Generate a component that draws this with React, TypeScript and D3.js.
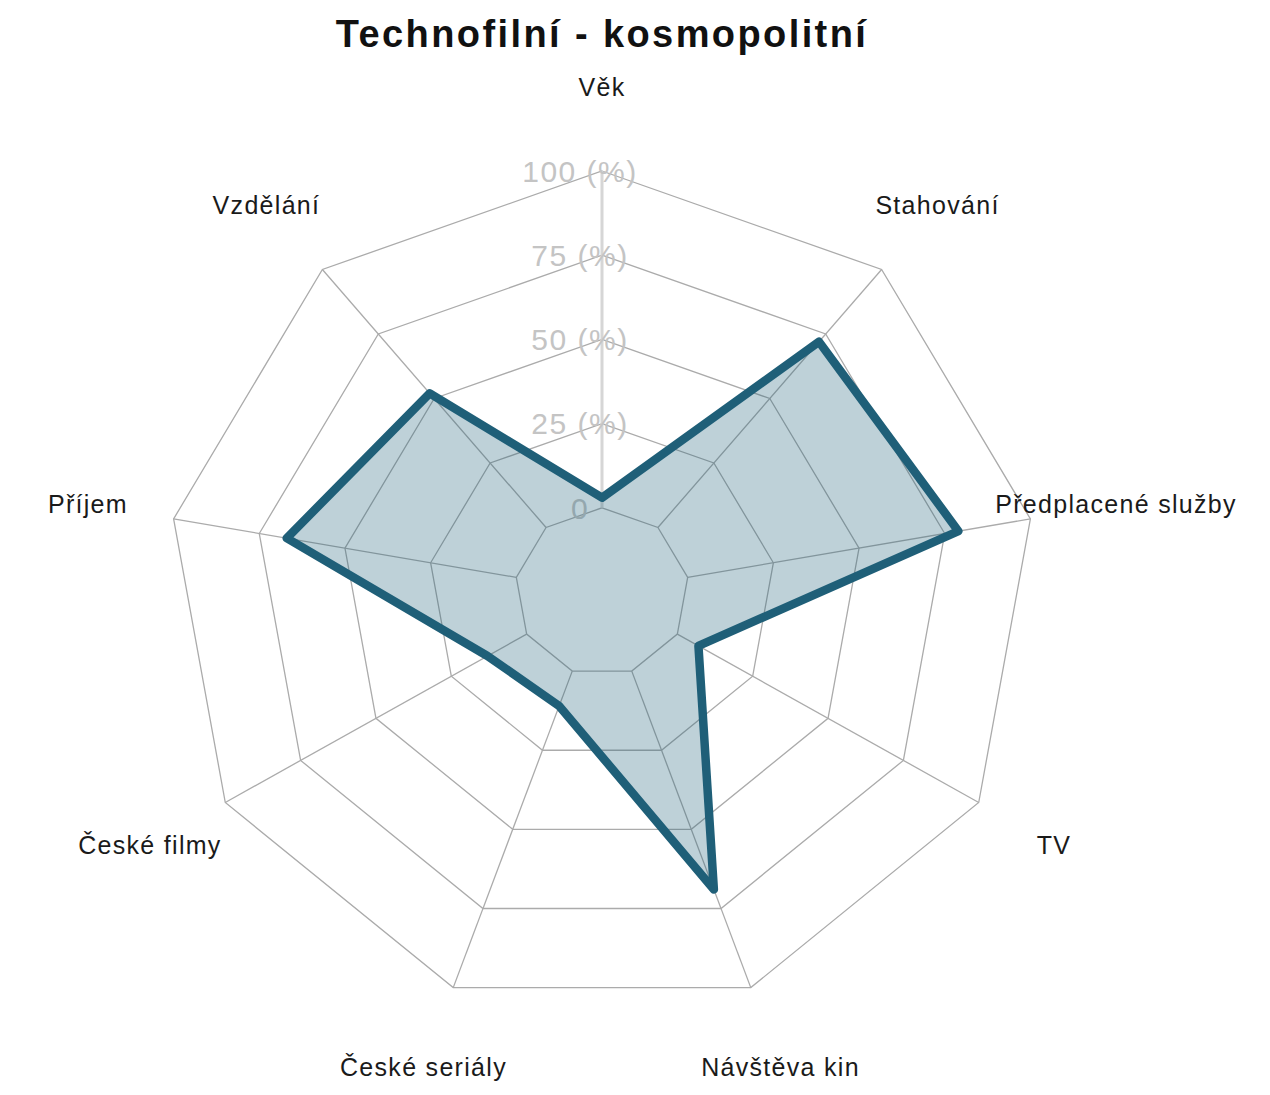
import React from "react";
import * as d3 from "d3";

const categories = [
  "Věk",
  "Stahování",
  "Předplacené služby",
  "TV",
  "Návštěva kin",
  "České seriály",
  "České filmy",
  "Příjem",
  "Vzdělání",
];
const values = [3, 72, 79, 7, 69, 11, 13, 67, 52];
const gridLevels = [0, 25, 50, 75, 100];
const gridLabels = ["0", "25 (%)", "50 (%)", "75 (%)", "100 (%)"];
const title = "Technofilní - kosmopolitní";

export default function App() {
  const width = 1270;
  const height = 1095;
  const cx = 602;
  const cy = 592;
  const rx = 435; // picture is a bit wider than tall
  const ry = 421;
  const font = "'Liberation Sans', Arial, Helvetica, sans-serif";

  // fmsb-style: value 0 sits at 1/5 of the radius
  const r = d3.scaleLinear().domain([0, 100]).range([0.2, 1]);
  const angle = d3
    .scaleLinear()
    .domain([0, categories.length])
    .range([0, 2 * Math.PI]);

  const pt = (i: number, f: number): [number, number] => [
    cx + f * rx * Math.sin(angle(i)),
    cy - f * ry * Math.cos(angle(i)),
  ];

  const closed = d3.line().curve(d3.curveLinearClosed);

  const rings = gridLevels.map((lv) =>
    closed(categories.map((_, i) => pt(i, r(lv))))
  );
  const dataPath = closed(values.map((v, i) => pt(i, r(v))));

  return (
    <svg
      width={width}
      height={height}
      style={{ position: "absolute", left: 0, top: 0, background: "#fff" }}
    >
      <text
        x={cx}
        y={47}
        textAnchor="middle"
        fontFamily={font}
        fontWeight="bold"
        fontSize={38}
        letterSpacing={2.4}
        fill="#111"
      >
        {title}
      </text>

      {/* grid */}
      <g fill="none" stroke="#ababab" strokeWidth={1.3}>
        {rings.map((d, k) => (
          <path key={k} d={d || ""} />
        ))}
        {categories.map((_, i) => {
          const [x1, y1] = pt(i, r(0));
          const [x2, y2] = pt(i, r(100));
          return <line key={i} x1={x1} y1={y1} x2={x2} y2={y2} />;
        })}
      </g>
      {/* vertical axis */}
      <line
        x1={cx}
        y1={pt(0, r(0))[1]}
        x2={cx}
        y2={pt(0, r(100))[1]}
        stroke="#d6d6d6"
        strokeWidth={3}
      />

      {gridLevels.map((lv, k) => (
        <text
          key={k}
          x={cx - 22}
          y={pt(0, r(lv))[1]}
          dy="0.36em"
          textAnchor="middle"
          fontFamily={font}
          fontSize={30}
          letterSpacing={1.5}
          fill="#c4c4c4"
        >
          {gridLabels[k]}
        </text>
      ))}

      <path
        d={dataPath || ""}
        fill="rgb(31,95,120)"
        fillOpacity={0.29}
        stroke="#1f5f78"
        strokeWidth={8.5}
        strokeLinejoin="round"
      />

      {categories.map((c, i) => {
        const [x, y] = pt(i, 1.2);
        return (
          <text
            key={c}
            x={x}
            y={y}
            dy="0.36em"
            textAnchor="middle"
            fontFamily={font}
            fontSize={25}
            letterSpacing={1.3}
            fill="#1a1a1a"
          >
            {c}
          </text>
        );
      })}
    </svg>
  );
}
